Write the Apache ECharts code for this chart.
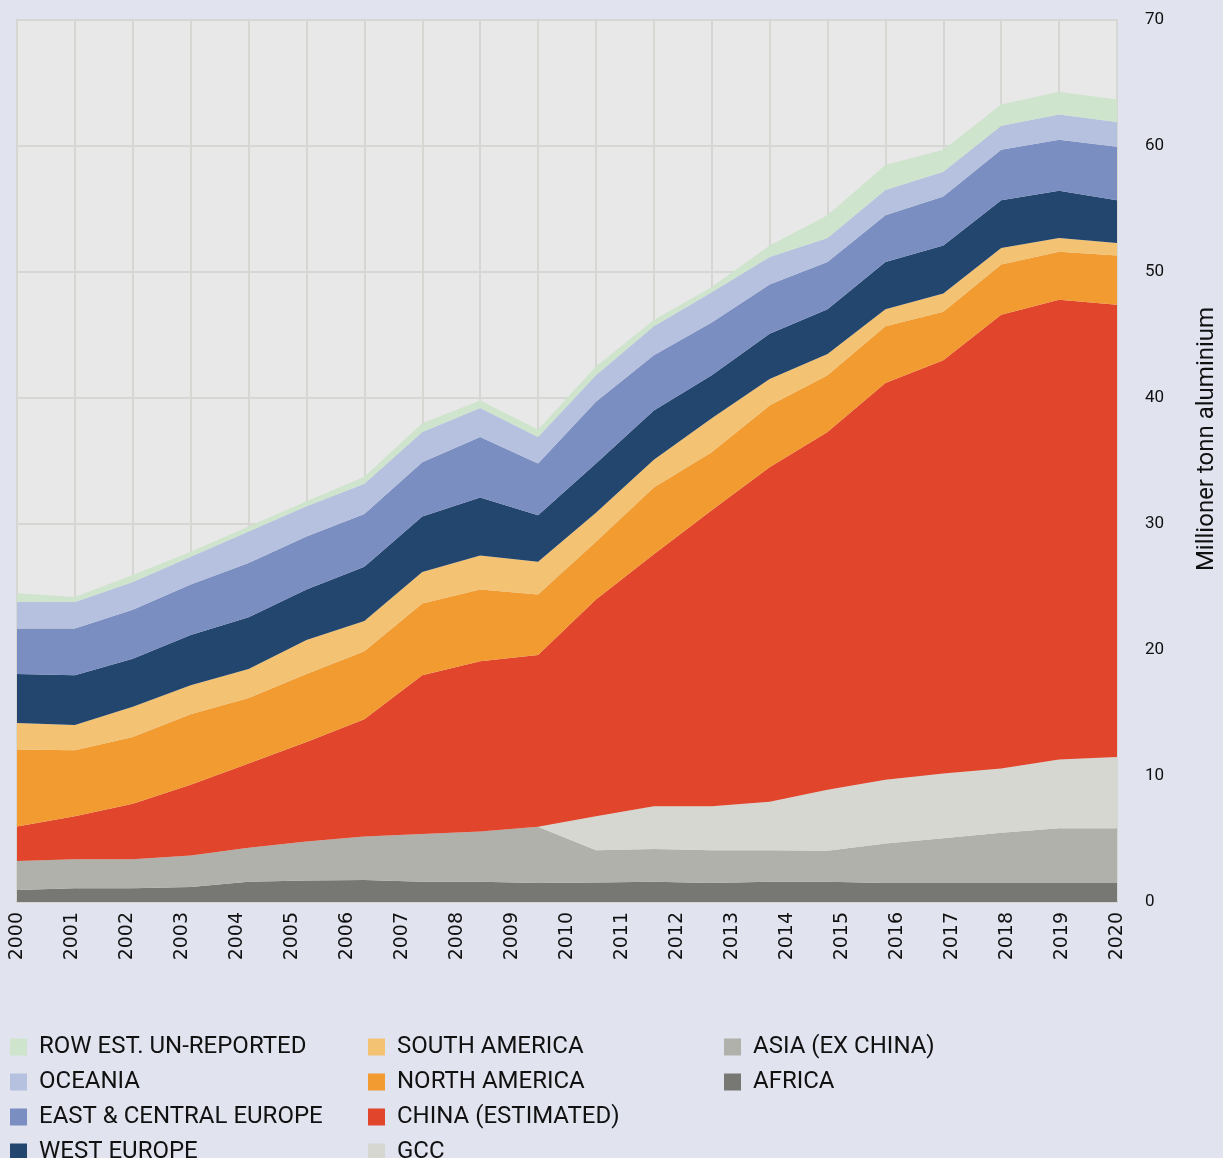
<html>
	<head>
		<meta http-equiv="content-type" content="text/html; charset=utf-8">
		<script src="https://cdn.jsdelivr.net/npm/echarts@6/dist/echarts.min.js"></script>
		<style>
			html, body { margin: 0; padding: 0; background: #e1e3ef; }
			#chart { width: 1223px; height: 1158px; }
		</style>
		<title>Aluminium production</title>
	</head>
	<body>
		<div id="chart"></div>

		<script type="text/javascript">
///////////////////////////////////////////////////////////////////////////////
// data (million tonnes)
var years = ["2000","2001","2002","2003","2004","2005","2006","2007","2008","2009",
	"2010","2011","2012","2013","2014","2015","2016","2017","2018","2019"];
var year_labels = ["2000","2001","2002","2003","2004","2005","2006","2007","2008","2009","2010",
	"2011","2012","2013","2014","2015","2016","2017","2018","2019","2020"];
var y_ticks = [0, 10, 20, 30, 40, 50, 60, 70];

var africa  = [0.95,1.1,1.1,1.2,1.6,1.7,1.75,1.6,1.6,1.5,1.55,1.6,1.5,1.6,1.6,1.5,1.5,1.5,1.5,1.5];
var asia    = [2.3,2.3,2.3,2.5,2.7,3.1,3.45,3.8,4.0,4.47,2.55,2.6,2.6,2.5,2.47,3.15,3.55,4.0,4.35,4.35];
var gcc     = [0,0,0,0,0,0,0,0,0,0,2.7,3.4,3.5,3.85,4.83,5.05,5.15,5.1,5.45,5.65];
var china   = [2.75,3.4,4.4,5.6,6.7,7.9,9.3,12.6,13.5,13.63,17.2,20.0,23.5,26.55,28.4,31.5,32.8,36.0,36.5,35.9];
var n_amer  = [6.1,5.25,5.3,5.6,5.2,5.4,5.4,5.7,5.7,4.8,4.6,5.3,4.6,4.9,4.5,4.5,3.85,4.0,3.8,3.9];
var s_amer  = [2.1,2.0,2.4,2.3,2.3,2.7,2.4,2.5,2.7,2.6,2.3,2.2,2.7,2.1,1.7,1.35,1.45,1.3,1.1,1.0];
var w_eur   = [3.9,3.95,3.8,4.0,4.1,4.0,4.3,4.4,4.6,3.7,3.9,3.9,3.4,3.6,3.55,3.75,3.8,3.8,3.75,3.4];
var ec_eur  = [3.6,3.7,3.9,4.0,4.3,4.2,4.2,4.3,4.8,4.1,4.9,4.4,4.2,3.9,3.75,3.7,3.9,4.0,4.05,4.25];
var oceania = [2.1,2.1,2.2,2.2,2.5,2.4,2.4,2.4,2.3,2.1,2.1,2.3,2.4,2.2,1.9,2.0,1.95,1.9,2.0,1.95];
var row_est = [0.7,0.4,0.55,0.4,0.4,0.4,0.55,0.7,0.6,0.6,0.7,0.5,0.4,0.9,1.8,2.0,1.75,1.7,1.8,1.8];

// stacking order, bottom first
var layers = [
	["AFRICA", africa, "#777874"],
	["ASIA (EX CHINA)", asia, "#b1b1ac"],
	["GCC", gcc, "#d7d7d2"],
	["CHINA (ESTIMATED)", china, "#e1452c"],
	["NORTH AMERICA", n_amer, "#f29b30"],
	["SOUTH AMERICA", s_amer, "#f3c373"],
	["WEST EUROPE", w_eur, "#23466f"],
	["EAST & CENTRAL EUROPE", ec_eur, "#7b8ec1"],
	["OCEANIA", oceania, "#b5c1df"],
	["ROW EST. UN-REPORTED", row_est, "#cfe4cc"],
];

// legend columns (read top to bottom)
var legend_cols = [
	["ROW EST. UN-REPORTED", "OCEANIA", "EAST & CENTRAL EUROPE", "WEST EUROPE"],
	["SOUTH AMERICA", "NORTH AMERICA", "CHINA (ESTIMATED)", "GCC"],
	["ASIA (EX CHINA)", "AFRICA"],
];
var legend_x = [10, 368, 724];

///////////////////////////////////////////////////////////////////////////////
var font = "Roboto, sans-serif";

var series = [];
for (var i=0; i<layers.length; i++) {
	series.push({
		name: layers[i][0],
		type: 'line',
		stack: 'total',
		data: layers[i][1],
		symbol: 'none',
		lineStyle: {width: 0},
		itemStyle: {color: layers[i][2]},
		areaStyle: {color: layers[i][2], opacity: 1},
		emphasis: {disabled: true},
	});
}

var legends = [];
for (var c=0; c<legend_cols.length; c++) {
	legends.push({
		data: legend_cols[c],
		orient: 'vertical',
		left: legend_x[c],
		top: 1035,
		height: 300,
		padding: 0,
		icon: 'rect',
		itemWidth: 17,
		itemHeight: 17,
		itemGap: 11,
		selectedMode: false,
		textStyle: {fontFamily: font, fontSize: 24, lineHeight: 24, color: '#111', padding: [0, 0, 0, 7]},
	});
}

var chart_option = {
	backgroundColor: '#e1e3ef',
	animation: false,
	legend: legends,
	grid: {
		left: 17,
		right: 106,
		top: 20,
		bottom: 256,
		outerBoundsMode: 'none',
		containLabel: false,
		show: true,
		backgroundColor: '#e8e8e8',
		borderColor: '#d2d2ce',
		borderWidth: 2,
	},
	xAxis: [{
		// data axis: grid lines at each data point
		type: 'category',
		data: years,
		boundaryGap: false,
		axisLine: {show: false},
		axisTick: {show: false},
		axisLabel: {show: false},
		splitLine: {show: true, interval: 0, lineStyle: {color: '#d6d6d2', width: 2}},
	}, {
		// label axis: 21 year labels across the same width
		type: 'category',
		data: year_labels,
		position: 'bottom',
		boundaryGap: false,
		axisLine: {show: false},
		axisTick: {show: false},
		splitLine: {show: false},
		axisLabel: {interval: 0, rotate: 90, margin: 10, fontFamily: "DejaVu Sans", fontSize: 19, color: '#111'},
	}],
	yAxis: {
		type: 'value',
		position: 'right',
		min: y_ticks[0],
		max: y_ticks[y_ticks.length-1],
		interval: 10,
		axisLine: {show: false},
		axisTick: {show: false},
		splitLine: {show: true, lineStyle: {color: '#d6d6d2', width: 2}},
		axisLabel: {margin: 28, fontFamily: font, fontSize: 17, color: '#111'},
		name: 'Millioner tonn aluminium',
		nameLocation: 'middle',
		nameRotate: 90,
		nameGap: 78,
		nameTextStyle: {fontFamily: font, fontSize: 24, color: '#111', padding: [0, 0, 0, 44]},
	},
	series: series,
};

var chart = echarts.init(document.getElementById('chart'));
chart.setOption(chart_option);
		</script>
	</body>
</html>
